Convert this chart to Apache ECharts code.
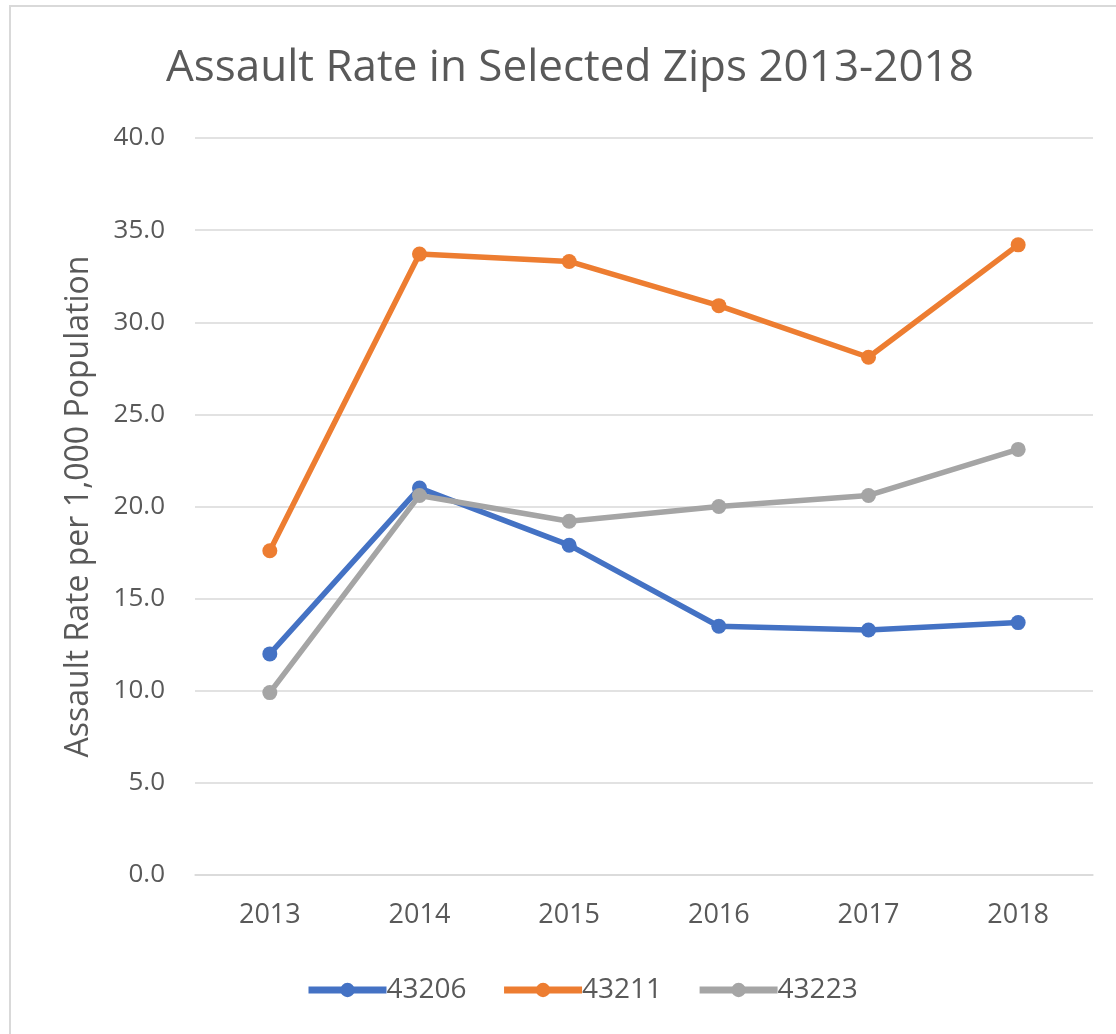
<!DOCTYPE html>
<html>
<head>
<meta charset="utf-8">
<script src="https://cdn.jsdelivr.net/npm/echarts@6/dist/echarts.min.js"></script>
<style>
  html, body { margin: 0; padding: 0; background: #fff; }
  #frame { position: absolute; left: 9px; top: 5px; width: 1120px; height: 1040px;
           border-left: 2px solid #d9d9d9; border-top: 2px solid #d9d9d9; box-sizing: border-box; }
  #chart { position: absolute; left: 0; top: 0; width: 1116px; height: 1034px; }
</style>
</head>
<body>
<div id="frame"></div>
<div id="chart"></div>
<script>
const years = ["2013", "2014", "2015", "2016", "2017", "2018"];
const zip43206 = [12.0, 21.0, 17.9, 13.5, 13.3, 13.7];
const zip43211 = [17.6, 33.7, 33.3, 30.9, 28.1, 34.2];
const zip43223 = [9.9, 20.6, 19.2, 20.0, 20.6, 23.1];

const textColor = "#595959";
const font = "Open Sans";

function lineSeries(name, data, color) {
  return {
    name: name,
    type: "line",
    data: data,
    symbol: "circle",
    symbolSize: 15,
    lineStyle: { width: 5.5, color: color },
    itemStyle: { color: color },
  };
}

const chart = echarts.init(document.getElementById("chart"), null, { renderer: "canvas" });
chart.setOption({
  animation: false,
  color: ["#4472C4", "#ED7D31", "#A5A5A5"],
  title: {
    text: "Assault Rate in Selected Zips 2013-2018",
    left: 161,
    top: 41,
    textStyle: { fontFamily: font, fontSize: 44, fontWeight: "normal", color: textColor },
  },
  grid: { left: 195, right: 23, top: 138, bottom: 159 },
  legend: {
    bottom: 25,
    left: 300,
    itemWidth: 78,
    itemHeight: 18,
    itemGap: 34,
    lineStyle: { width: 7 },
    textStyle: { fontFamily: font, fontSize: 28, color: textColor, padding: [0, 0, 0, -5] },
    data: ["43206", "43211", "43223"],
  },
  xAxis: {
    type: "category",
    data: years,
    boundaryGap: true,
    axisLine: { show: true, lineStyle: { color: "#d9d9d9", width: 1.5 } },
    axisTick: { show: false },
    axisLabel: { fontFamily: font, fontSize: 27, color: textColor, margin: 27 },
  },
  yAxis: {
    type: "value",
    min: 0,
    max: 40,
    interval: 5,
    name: "Assault Rate per 1,000 Population",
    nameLocation: "middle",
    nameRotate: 90,
    nameGap: 100,
    nameTextStyle: { fontFamily: font, fontSize: 32, color: textColor },
    axisLine: { show: false },
    axisTick: { show: false },
    axisLabel: {
      fontFamily: font, fontSize: 26, color: textColor, margin: 30,
      formatter: (v) => v.toFixed(1),
    },
    splitLine: { lineStyle: { color: "#d9d9d9", width: 1.5 } },
  },
  series: [
    lineSeries("43206", zip43206, "#4472C4"),
    lineSeries("43211", zip43211, "#ED7D31"),
    lineSeries("43223", zip43223, "#A5A5A5"),
  ],
});
</script>
</body>
</html>
